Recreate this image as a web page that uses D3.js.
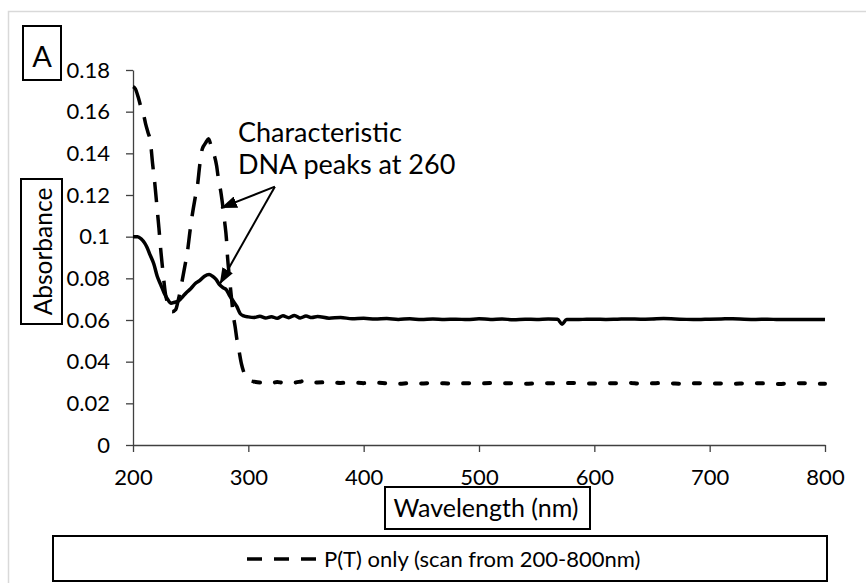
<!DOCTYPE html>
<html>
<head>
<meta charset="utf-8">
<script src="https://cdn.jsdelivr.net/npm/d3@7"></script>
<style>
  body { margin: 0; background: #fff; }
  svg { display: block; font-family: Lato, "Open Sans", sans-serif; }
</style>
</head>
<body>
<div id="chart"></div>
<script>
// solid trace (no legend entry)
var solidWl  = [200,204,207,210,212,215,218,221,224,227,230,233,236,239,242,246,250,254,258,262,266,269,272,275,278,281,284,287,290,293,296,300,
  305,310,315,320,325,330,335,340,345,350,355,360,370,380,390,400,410,420,430,440,450,460,470,480,490,500,510,520,530,540,550,560,568,572,576,580,
  590,600,610,620,630,640,650,660,670,680,690,700,710,720,730,740,750,760,770,780,790,800];
var solidAbs = [0.100,0.100,0.099,0.097,0.095,0.091,0.087,0.081,0.077,0.073,0.070,0.068,0.0685,0.069,0.0705,0.073,0.075,0.0775,0.079,0.081,0.0818,0.081,0.0795,0.077,0.0755,0.0745,0.0715,0.069,0.0665,0.063,0.062,0.0615,
  0.0612,0.0618,0.0610,0.0616,0.0608,0.0620,0.0611,0.0622,0.0610,0.0619,0.0612,0.0617,0.0609,0.0612,0.0606,0.0608,0.0605,0.0607,0.0603,0.0606,0.0602,0.0605,0.0603,0.0604,0.0602,0.0606,0.0603,0.0605,0.0601,0.0604,0.0603,0.0605,0.0604,0.0580,0.0603,0.0602,
  0.0603,0.0604,0.0603,0.0604,0.0605,0.0604,0.0605,0.0607,0.0605,0.0603,0.0602,0.0604,0.0605,0.0606,0.0604,0.0603,0.0604,0.0602,0.0603,0.0602,0.0603,0.0602];

// dashed trace: P(T) only
var dashWl  = [200,202,204.5,207,209,211,213,215,217,219,221,222.5,224,226,228,229.5,231.5,234,237,239,241,243,245,247,249.5,251,254,256,258,260,263,265.5,268,270,272.5,274,276,278,279.5,281,282,283.5,285.5,287,288.5,290,292,294,296,298,301,305,
  310,315,320,325,330,335,340,345,350,355,360,370,380,390,400,410,420,430,440,450,460,470,480,490,500,510,520,530,540,550,560,570,580,590,600,
  610,620,630,640,650,660,670,680,690,700,710,720,730,740,750,760,770,780,790,800];
var dashAbs = [0.172,0.171,0.167,0.162,0.159,0.154,0.150,0.146,0.135,0.125,0.113,0.104,0.094,0.083,0.073,0.069,0.065,0.064,0.065,0.069,0.074,0.080,0.086,0.092,0.103,0.109,0.119,0.125,0.135,0.142,0.145,0.147,0.143,0.140,0.134,0.128,0.122,0.114,0.107,0.099,0.090,0.081,0.070,0.062,0.057,0.051,0.045,0.039,0.035,0.032,0.031,0.0304,
  0.0300,0.0303,0.0298,0.0302,0.0299,0.0303,0.0300,0.0304,0.0310,0.0302,0.0300,0.0302,0.0298,0.0300,0.0297,0.0299,0.0296,0.0294,0.0297,0.0295,0.0298,0.0296,0.0294,0.0297,0.0295,0.0298,0.0296,0.0297,0.0294,0.0296,0.0297,0.0295,0.0298,0.0296,0.0295,
  0.0297,0.0296,0.0298,0.0294,0.0296,0.0298,0.0295,0.0294,0.0297,0.0296,0.0295,0.0294,0.0296,0.0297,0.0295,0.0293,0.0296,0.0297,0.0295,0.0294];

var xTicks = [200,300,400,500,600,700,800];
var yTicks = [0,0.02,0.04,0.06,0.08,0.1,0.12,0.14,0.16,0.18];
var legendLabel = "P(T) only (scan from 200-800nm)";
var noteLines = ["Characteristic", "DNA peaks at 260"];

var width = 866, height = 583;

var svg = d3.select("#chart").append("svg")
  .attr("width", width).attr("height", height);

// outer chart area border (only top/left visible in frame)
svg.append("rect")
  .attr("x", 8.5).attr("y", 11.5).attr("width", 900).attr("height", 600)
  .attr("fill", "none").attr("stroke", "#d9d9d9").attr("stroke-width", 1.5);

var x = d3.scaleLinear().domain([200, 800]).range([133, 825]);
var y = d3.scaleLinear().domain([0, 0.18]).range([445, 70]);

var yAxis = svg.append("g")
  .attr("transform", "translate(" + x(200) + ",0)")
  .call(d3.axisLeft(y).tickValues(yTicks).tickSize(7).tickSizeOuter(0).tickPadding(16)
    .tickFormat(function(d){ return String(+d.toFixed(2)); }));
var xAxis = svg.append("g")
  .attr("transform", "translate(0," + y(0) + ")")
  .call(d3.axisBottom(x).tickValues(xTicks).tickSize(7).tickSizeOuter(0).tickPadding(17));

[xAxis, yAxis].forEach(function(a){
  a.selectAll("path,line").attr("stroke", "#404040").attr("stroke-width", 1.3);
  a.selectAll("text").attr("fill", "#000").style("font-size", "22px").style("font-family", "Lato");
});

var line = d3.line()
  .x(function(d){ return x(d[0]); })
  .y(function(d){ return y(d[1]); })
  .curve(d3.curveMonotoneX);

var solid = solidWl.map(function(w, i){ return [w, solidAbs[i]]; });
var dashed = dashWl.map(function(w, i){ return [w, dashAbs[i]]; });
var split = dashWl.indexOf(305);

svg.append("path").datum(solid)
  .attr("d", line).attr("fill", "none").attr("stroke", "#000")
  .attr("stroke-width", 3.5).attr("stroke-linejoin", "round");

// peak part and flat part use different dash lengths (the flat part of the scan is noisy)
svg.append("path").datum(dashed.slice(0, split + 1))
  .attr("d", line).attr("fill", "none").attr("stroke", "#000")
  .attr("stroke-width", 3.5).attr("stroke-dasharray", "20,13");
svg.append("path").datum(dashed.slice(split))
  .attr("d", line).attr("fill", "none").attr("stroke", "#000")
  .attr("stroke-width", 4).attr("stroke-linecap", "round").attr("stroke-dasharray", "6,15");

// annotation
svg.append("defs").append("marker")
  .attr("id", "head").attr("viewBox", "0 0 16 12")
  .attr("refX", 16).attr("refY", 6)
  .attr("markerWidth", 16).attr("markerHeight", 12)
  .attr("markerUnits", "userSpaceOnUse").attr("orient", "auto")
  .append("path").attr("d", "M0,0L16,6L0,12Z").attr("fill", "#000");

var apex = [323, 0.124];
var tips = [[276.3, 0.1138], [275.2, 0.0772]];
tips.forEach(function(t){
  svg.append("line")
    .attr("x1", x(apex[0])).attr("y1", y(apex[1]))
    .attr("x2", x(t[0])).attr("y2", y(t[1]))
    .attr("stroke", "#000").attr("stroke-width", 2)
    .attr("marker-end", "url(#head)");
});

svg.selectAll(".note").data(noteLines).enter().append("text")
  .attr("class", "note")
  .attr("x", x(291))
  .attr("y", function(d, i){ return y(0.1455) + i * 32; })
  .style("font-size", "27px")
  .text(function(d){ return d; });

// "A" panel label
svg.append("rect").attr("x", 23).attr("y", 26).attr("width", 38).attr("height", 54)
  .attr("fill", "none").attr("stroke", "#000").attr("stroke-width", 2);
svg.append("text").attr("x", 42).attr("y", 67).attr("text-anchor", "middle")
  .style("font-size", "29px").text("A");

// axis titles in boxes
svg.append("rect").attr("x", 21).attr("y", 179).attr("width", 41).attr("height", 145)
  .attr("fill", "none").attr("stroke", "#000").attr("stroke-width", 2);
svg.append("text")
  .attr("transform", "translate(51.5,251.5) rotate(-90)")
  .attr("text-anchor", "middle").style("font-size", "24.5px").text("Absorbance");

svg.append("rect").attr("x", 385).attr("y", 487).attr("width", 205).attr("height", 42)
  .attr("fill", "none").attr("stroke", "#000").attr("stroke-width", 2);
svg.append("text").attr("x", 486).attr("y", 517)
  .attr("text-anchor", "middle").style("font-size", "25px").text("Wavelength (nm)");

// legend
svg.append("rect").attr("x", 53).attr("y", 536).attr("width", 774).attr("height", 45)
  .attr("fill", "#fff").attr("stroke", "#000").attr("stroke-width", 2);
svg.append("line").attr("x1", 247).attr("x2", 316).attr("y1", 559).attr("y2", 559)
  .attr("stroke", "#000").attr("stroke-width", 3.5).attr("stroke-dasharray", "15,12");
svg.append("text").attr("x", 324).attr("y", 566.5)
  .style("font-size", "22px").text(legendLabel);
</script>
</body>
</html>
